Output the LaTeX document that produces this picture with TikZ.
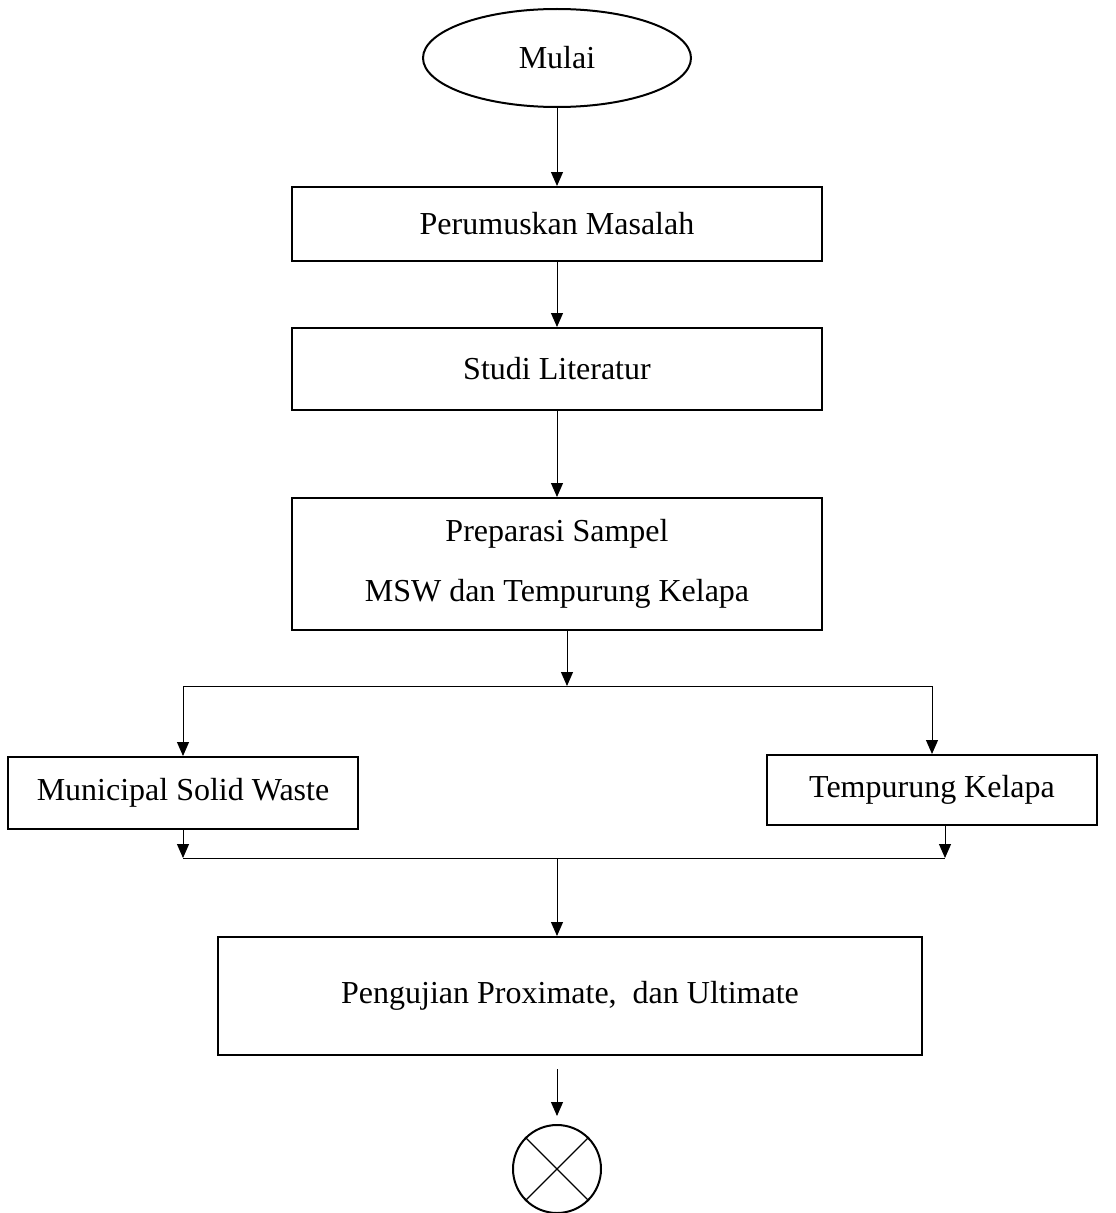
\documentclass[tikz,border=0pt]{standalone}
\usepackage{fontspec}
\setmainfont{Liberation Serif}
\usetikzlibrary{shapes.geometric, arrows.meta}

\begin{document}
\begin{tikzpicture}[x=0.75pt, y=-0.75pt,
  every node/.style={font=\fontsize{24}{30}\selectfont},
  box/.style={rectangle, draw, line width=1.5pt, minimum width=397.5pt, inner sep=0pt},
  arr/.style={-{Triangle[length=10.5pt, width=9pt]}, line width=0.75pt},
  line/.style={line width=0.75pt}]
  \useasboundingbox (0,0) rectangle (1116,1213);
  % Nodes
  \node (start) [ellipse, draw, line width=1.5pt, minimum width=201pt, minimum height=73.5pt, inner sep=0pt] at (557,58) {Mulai};
  \node (rumus) [box, minimum height=55.5pt] at (557,224) {Perumuskan Masalah};
  \node (studi) [box, minimum height=61.5pt] at (557,369) {Studi Literatur};
  \node (prep) [box, minimum height=99pt, align=center] at (557,564) {Preparasi Sampel\\[15pt]MSW dan Tempurung Kelapa};
  \node (msw) [box, minimum width=262.5pt, minimum height=54pt] at (183,793) {Municipal Solid Waste};
  \node (tk) [box, minimum width=247.5pt, minimum height=52.5pt] at (932,790) {Tempurung Kelapa};
  \node (uji) [box, minimum width=528pt, minimum height=88.5pt] at (570,996) {Pengujian Proximate,\ \ dan Ultimate};
  \node (stop) [circle, draw, line width=1.5pt, minimum size=66pt, inner sep=0pt] at (557,1169) {};
  \coordinate (split) at (567,686);
  \coordinate (merge) at (557,858);
  % Arrows
  \draw[arr] (start) -- (rumus);
  \draw[arr] (rumus) -- (studi);
  \draw[arr] (studi) -- (prep);
  \draw[arr] (prep.south -| split) -- (split);
  \draw[line] (msw.north |- split) -- (tk.north |- split);
  \draw[arr] (msw.north |- split) -- (msw.north);
  \draw[arr] (tk.north |- split) -- (tk.north);
  \draw[arr] (msw.south) -- (msw.south |- merge);
  \draw[arr] ([xshift=9.75pt]tk.south) -- ([xshift=9.75pt]tk.south |- merge);
  \draw[line] (msw.south |- merge) -- ([xshift=9.75pt]tk.south |- merge);
  \draw[arr] (merge) -- (merge |- uji.north);
  \draw[arr, shorten <=9.75pt, shorten >=6pt] (merge |- uji.south) -- (stop);
  % Cross
  \draw[line width=1pt] (stop.45) -- (stop.225) (stop.135) -- (stop.-45);
\end{tikzpicture}
\end{document}
